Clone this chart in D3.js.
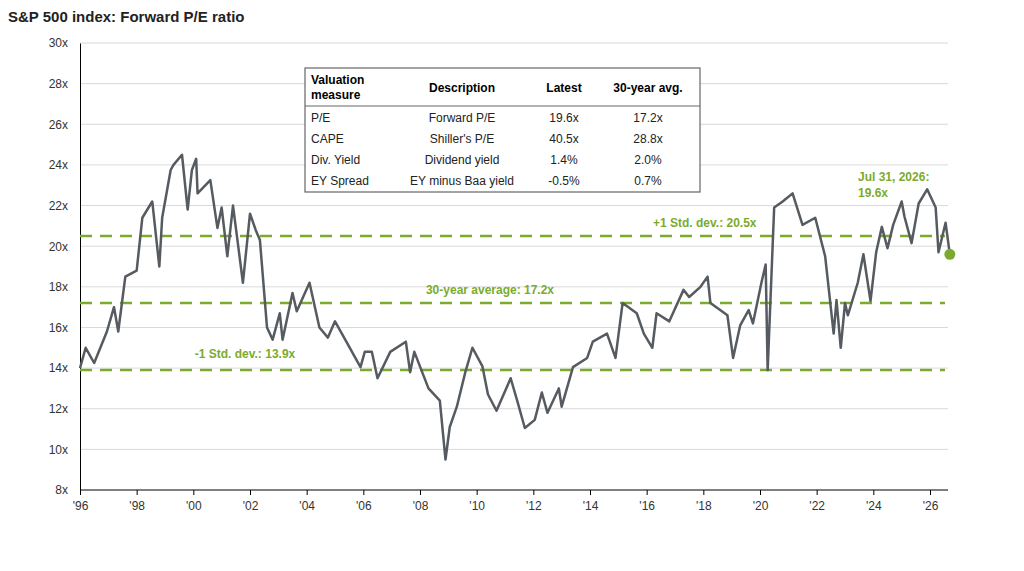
<!DOCTYPE html>
<html><head><meta charset="utf-8">
<script src="https://cdn.jsdelivr.net/npm/d3@7"></script>
<style>body{margin:0;background:#fff;font-family:Arial,"Liberation Sans",sans-serif}</style>
</head><body><div id="chart"></div>
<script>
// forward P/E readings (year, value)
const years = [1996.0,1996.2,1996.5,1996.95,1997.2,1997.35,1997.6,1998.0,1998.2,1998.55,1998.8,1998.9,1999.2,1999.3,1999.6,1999.8,1999.95,2000.1,2000.15,2000.6,2000.85,2001.0,2001.2,2001.4,2001.75,2002.0,2002.2,2002.35,2002.6,2002.8,2003.05,2003.15,2003.5,2003.65,2004.1,2004.45,2004.75,2005.0,2005.4,2005.9,2006.05,2006.3,2006.5,2006.95,2007.5,2007.65,2007.8,2008.3,2008.7,2008.9,2009.05,2009.3,2009.6,2009.85,2010.2,2010.4,2010.7,2011.2,2011.45,2011.7,2012.05,2012.3,2012.5,2012.9,2013.0,2013.4,2013.9,2014.1,2014.6,2014.9,2015.15,2015.65,2015.9,2016.2,2016.35,2016.8,2017.3,2017.5,2017.9,2018.15,2018.25,2018.85,2019.05,2019.3,2019.6,2019.75,2020.05,2020.2,2020.27,2020.5,2020.8,2021.15,2021.5,2021.95,2022.3,2022.6,2022.7,2022.85,2023.0,2023.1,2023.45,2023.65,2023.9,2024.1,2024.3,2024.5,2024.7,2025.0,2025.1,2025.35,2025.6,2025.9,2026.2,2026.3,2026.55,2026.7];
const pe = [14.0,15.0,14.25,15.8,17.0,15.8,18.5,18.8,21.4,22.2,19.0,21.4,23.75,24.0,24.5,21.8,23.75,24.3,22.6,23.25,20.9,21.9,19.5,22.0,18.2,21.6,20.8,20.3,16.0,15.4,16.7,15.4,17.7,16.8,18.2,16.0,15.5,16.3,15.3,14.05,14.8,14.8,13.5,14.8,15.3,13.8,14.8,13.0,12.4,9.5,11.1,12.1,13.8,15.0,14.1,12.7,11.9,13.5,12.3,11.05,11.45,12.8,11.8,13.0,12.1,14.05,14.5,15.3,15.7,14.5,17.2,16.7,15.7,15.0,16.7,16.3,17.85,17.5,18.0,18.5,17.2,16.6,14.5,16.1,16.85,16.2,18.2,19.1,13.9,21.9,22.2,22.6,21.05,21.4,19.5,15.7,17.35,15.0,17.2,16.6,18.2,19.6,17.3,19.7,20.95,19.9,21.05,22.2,21.45,20.15,22.1,22.8,21.9,19.7,21.15,19.6];
const refLines = [20.5, 17.2, 13.9];
const refLabels = ["+1 Std. dev.: 20.5x", "30-year average: 17.2x", "-1 Std. dev.: 13.9x"];
const tableHead = ["Valuation measure", "Description", "Latest", "30-year avg."];
const tableRows = [
  ["P/E", "Forward P/E", "19.6x", "17.2x"],
  ["CAPE", "Shiller's P/E", "40.5x", "28.8x"],
  ["Div. Yield", "Dividend yield", "1.4%", "2.0%"],
  ["EY Spread", "EY minus Baa yield", "-0.5%", "0.7%"]
];
const yTicks = d3.range(8, 31, 2);
const xTicks = d3.range(1996, 2027, 2);

const green = "#7bab2e", line = "#555b60";
const svg = d3.select("#chart").append("svg").attr("width", 1024).attr("height", 571);

svg.append("text").attr("x", 8).attr("y", 22).attr("font-size", 15).attr("font-weight", "bold")
  .attr("fill", "#222").text("S&P 500 index: Forward P/E ratio");

const x = d3.scaleLinear().domain([1996, 2026]).range([80, 930]);
const y = d3.scaleLinear().domain([8, 30]).range([490, 43]);

// gridlines
svg.append("g").selectAll("line").data(yTicks.slice(1)).enter().append("line")
  .attr("x1", 80).attr("x2", 948).attr("y1", d => y(d)).attr("y2", d => y(d))
  .attr("stroke", "#d9d9d9").attr("stroke-width", 1);

// axes
const yAxis = svg.append("g").attr("transform", "translate(80,0)")
  .call(d3.axisLeft(y).tickValues(yTicks).tickSize(0).tickPadding(12).tickFormat(d => d + "x"));
yAxis.select(".domain").attr("stroke", "#000");
const xAxis = svg.append("g").attr("transform", "translate(0,490)")
  .call(d3.axisBottom(x).tickValues(xTicks).tickSize(5).tickPadding(6)
    .tickFormat(d => "'" + String(d).slice(2)));
xAxis.select(".domain").attr("d", "M80,0H948").attr("stroke", "#000");
svg.selectAll(".tick text").attr("font-size", 12).attr("fill", "#333").attr("font-family", "Arial,'Liberation Sans',sans-serif");

// reference lines
refLines.forEach(v => {
  svg.append("line").attr("x1", 80).attr("x2", 945).attr("y1", y(v)).attr("y2", y(v))
    .attr("stroke", green).attr("stroke-width", 2.5).attr("stroke-dasharray", "12,8");
});
const lbl = [[653, y(20.5) - 9, "start"], [490, y(17.2) - 9, "middle"], [245, y(13.9) - 12, "middle"]];
lbl.forEach((p, i) => svg.append("text").attr("x", p[0]).attr("y", p[1]).attr("text-anchor", p[2])
  .attr("font-size", 12).attr("font-weight", "bold").attr("fill", green).text(refLabels[i]));

// series
const data = years.map((d, i) => ({ t: d, v: pe[i] }));
svg.append("path").datum(data).attr("fill", "none").attr("stroke", line).attr("stroke-width", 2.5)
  .attr("stroke-linejoin", "round")
  .attr("d", d3.line().x(d => x(d.t)).y(d => y(d.v)));
const last = data[data.length - 1];
svg.append("circle").attr("cx", x(last.t)).attr("cy", y(last.v)).attr("r", 5.5).attr("fill", green);
svg.append("text").attr("x", 858).attr("y", 181).attr("font-size", 12).attr("font-weight", "bold")
  .attr("fill", green).text("Jul 31, 2026:");
svg.append("text").attr("x", 858).attr("y", 197).attr("font-size", 12).attr("font-weight", "bold")
  .attr("fill", green).text(last.v + "x");

// table
const tb = svg.append("g");
tb.append("rect").attr("x", 305).attr("y", 68).attr("width", 395).attr("height", 124)
  .attr("fill", "#fff").attr("stroke", "#666").attr("stroke-width", 1.2);
tb.append("line").attr("x1", 305).attr("x2", 700).attr("y1", 106).attr("y2", 106).attr("stroke", "#666");
const colX = [311, 462, 564, 648], colA = ["start", "middle", "middle", "middle"];
tb.append("text").attr("x", 311).attr("y", 84).attr("font-size", 12).attr("font-weight", "bold").text("Valuation");
tb.append("text").attr("x", 311).attr("y", 99).attr("font-size", 12).attr("font-weight", "bold").text("measure");
tableHead.slice(1).forEach((h, i) => tb.append("text").attr("x", colX[i + 1]).attr("y", 92)
  .attr("text-anchor", colA[i + 1]).attr("font-size", 12).attr("font-weight", "bold").text(h));
tableRows.forEach((r, j) => r.forEach((c, i) => tb.append("text").attr("x", colX[i]).attr("y", 122 + j * 21)
  .attr("text-anchor", colA[i]).attr("font-size", 12).attr("fill", "#222").text(c)));
</script></body></html>
